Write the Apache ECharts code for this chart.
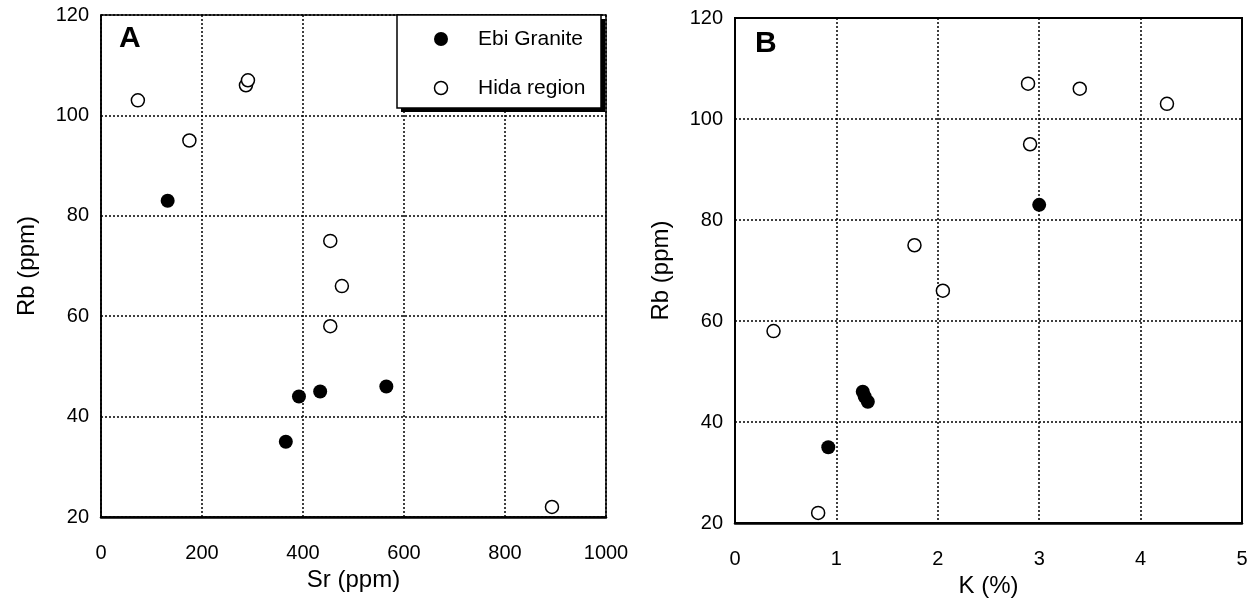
<!DOCTYPE html>
<html>
<head>
<meta charset="utf-8">
<script src="https://cdn.jsdelivr.net/npm/echarts@6/dist/echarts.min.js"></script>
<style>
  html, body { margin: 0; padding: 0; background: #fff; }
  #main { width: 1253px; height: 601px; }
</style>
</head>
<body>
<div id="main"></div>
<script>
// Ebi Granite samples
const srEbi = [132, 392, 434, 565, 366];
const rbEbi = [83, 44, 45, 46, 35];
const kEbi = [3.00, 1.31, 1.28, 1.26, 0.92];
// Hida region samples
const srHida = [73, 175, 287, 291, 454, 477, 454, 893];
const rbHida = [103, 95, 106, 107, 75, 66, 58, 22];
const kHida = [4.26, 2.91, 3.40, 2.89, 1.77, 2.05, 0.38, 0.82];

const seriesNames = ['Ebi Granite', 'Hida region'];
const panelLabels = ['A', 'B'];
const xNames = ['Sr (ppm)', 'K (%)'];
const yName = 'Rb (ppm)';

const font = "'Liberation Sans', Arial, Helvetica, sans-serif";

function pairs(xs, ys) {
  return xs.map(function (x, i) { return [x, ys[i]]; });
}

const gridLine = { show: true, lineStyle: { color: '#000', width: 1.5, type: [2, 2] } };

function xAxis(idx, max, interval) {
  return {
    gridIndex: idx, type: 'value', min: 0, max: max, interval: interval,
    name: xNames[idx], nameLocation: 'middle', nameGap: 51,
    nameTextStyle: { fontSize: 24, color: '#000', fontFamily: font },
    axisLine: { show: true, onZero: false, lineStyle: { color: '#000', width: 2.5 } },
    axisTick: { show: false },
    axisLabel: { fontSize: 20, color: '#000', margin: 26, fontFamily: font,
      formatter: function (v) { return String(v); } },
    splitLine: gridLine
  };
}

function yAxis(idx) {
  return {
    gridIndex: idx, type: 'value', min: 20, max: 120, interval: 20,
    name: yName, nameLocation: 'middle', nameGap: 62,
    nameTextStyle: { fontSize: 24, color: '#000', fontFamily: font },
    axisLine: { show: true, onZero: false, lineStyle: { color: '#000', width: 1.5 } },
    axisTick: { show: false },
    axisLabel: { fontSize: 20, color: '#000', margin: 12, fontFamily: font },
    splitLine: gridLine
  };
}

const filled = { color: '#000', opacity: 1 };
const open = { color: '#fff', borderColor: '#000', borderWidth: 1.5, opacity: 1 };

// legend box drawn by hand so it sits where the original one does
const legendFont = '21px ' + font;
const legendBox = [
  { type: 'rect', z: 100, shape: { x: 401, y: 19, width: 204, height: 93 },
    style: { fill: '#000' } },
  { type: 'rect', z: 101, shape: { x: 397, y: 15, width: 204, height: 93 },
    style: { fill: '#fff', stroke: '#000', lineWidth: 1.5 } },
  { type: 'circle', z: 102, shape: { cx: 441, cy: 39, r: 7 }, style: { fill: '#000' } },
  { type: 'text', z: 102, x: 478, y: 39,
    style: { text: seriesNames[0], font: legendFont, fill: '#000', verticalAlign: 'middle' } },
  { type: 'circle', z: 102, shape: { cx: 441, cy: 88, r: 6.5 },
    style: { fill: '#fff', stroke: '#000', lineWidth: 1.5 } },
  { type: 'text', z: 102, x: 478, y: 88,
    style: { text: seriesNames[1], font: legendFont, fill: '#000', verticalAlign: 'middle' } }
];

let chart = echarts.init(document.getElementById('main'));

let option = {
  animation: false,
  backgroundColor: '#fff',
  title: [
    { text: panelLabels[0], left: 119, top: 24, padding: 0,
      textStyle: { fontSize: 30, fontWeight: 'bold', color: '#000', fontFamily: font } },
    { text: panelLabels[1], left: 755, top: 29, padding: 0,
      textStyle: { fontSize: 30, fontWeight: 'bold', color: '#000', fontFamily: font } }
  ],
  graphic: legendBox,
  grid: [
    { left: 101, top: 15, width: 505, height: 502, show: true, borderColor: '#000', borderWidth: 1.5, outerBoundsMode: 'none' },
    { left: 735, top: 18, width: 507, height: 505, show: true, borderColor: '#000', borderWidth: 2, outerBoundsMode: 'none' }
  ],
  xAxis: [xAxis(0, 1000, 200), xAxis(1, 5, 1)],
  yAxis: [yAxis(0), yAxis(1)],
  series: [
    { name: seriesNames[0], type: 'scatter', xAxisIndex: 0, yAxisIndex: 0,
      symbolSize: 14, itemStyle: filled, data: pairs(srEbi, rbEbi) },
    { name: seriesNames[1], type: 'scatter', xAxisIndex: 0, yAxisIndex: 0,
      symbolSize: 13, itemStyle: open, data: pairs(srHida, rbHida) },
    { name: seriesNames[0], type: 'scatter', xAxisIndex: 1, yAxisIndex: 1,
      symbolSize: 14, itemStyle: filled, data: pairs(kEbi, rbEbi) },
    { name: seriesNames[1], type: 'scatter', xAxisIndex: 1, yAxisIndex: 1,
      symbolSize: 13, itemStyle: open, data: pairs(kHida, rbHida) }
  ]
};

chart.setOption(option);
</script>
</body>
</html>
